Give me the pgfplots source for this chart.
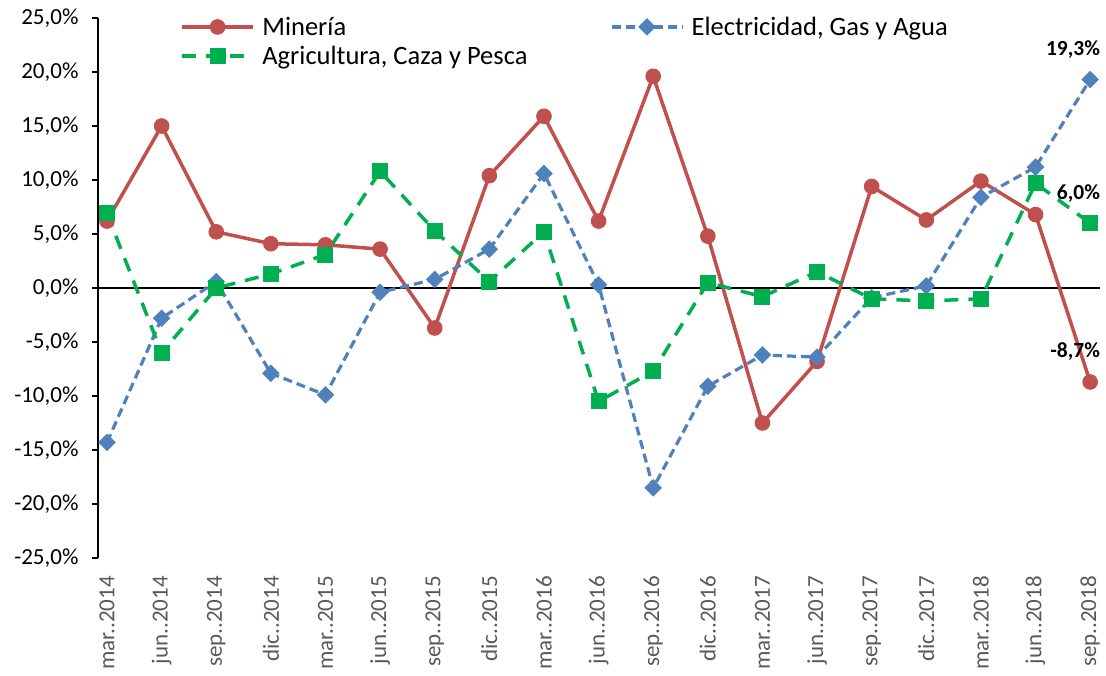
\documentclass[border=0pt]{standalone}
\usepackage{pgfplots}
\pgfplotsset{compat=1.18}
\usepackage{fontspec}
\setmainfont{Carlito}
\definecolor{mred}{HTML}{C0504D}
\definecolor{mblue}{HTML}{4F81BD}
\definecolor{mgreen}{HTML}{00B050}
\definecolor{lblgray}{HTML}{595959}
\begin{document}
\begin{tikzpicture}
\path[use as bounding box] (0,0) rectangle (1106pt,675pt);
\begin{axis}[
  at={(98pt,117pt)}, anchor=south west,
  scale only axis, width=1002pt, height=540pt,
  xmin=-0.165, xmax=18.18, ymin=-25, ymax=25,
  axis y line*=left, axis x line*=bottom,
  x axis line style={draw=none},
  y axis line style={black, line width=1.3pt},
  xtick={0,...,18},
  xticklabels={mar..2014,jun..2014,sep..2014,dic..2014,mar..2015,jun..2015,sep..2015,dic..2015,mar..2016,jun..2016,sep..2016,dic..2016,mar..2017,jun..2017,sep..2017,dic..2017,mar..2018,jun..2018,sep..2018},
  x tick style={draw=none},
  xticklabel style={rotate=90, anchor=east, inner sep=1pt, xshift=-11pt, font=\fontsize{23}{26}\selectfont, text=lblgray},
  ytick={-25,-20,...,25},
  tick align=outside, major tick length=6pt,
  y tick style={black, line width=1.3pt},
  yticklabel style={font=\fontsize{23}{26}\selectfont, xshift=-10pt, /pgf/number format/.cd, fixed, fixed zerofill, precision=1, use comma, assume math mode=true},
  yticklabel={\pgfmathprintnumber{\tick}\%},
  legend columns=2,
  legend cell align=left,
  legend style={draw=none, fill=none, at={(0.082,1.005)}, anchor=north west,
    font=\fontsize{26.5}{30}\selectfont, inner sep=0pt, row sep=6pt,
    nodes={inner sep=1.5pt},
    /tikz/every odd column/.append style={column sep=6pt},
    /tikz/every even column/.append style={column sep=81pt}},
  legend image code/.code={\draw[mark repeat=2,mark phase=2] plot coordinates {(0pt,0pt)(35.5pt,0pt)(71pt,0pt)};},
]
\draw[black, line width=1.3pt] (rel axis cs:0,0.5) -- (rel axis cs:1,0.5);
\addplot[mred, line width=3.5pt, mark=*, mark size=7.3pt, mark options={solid, line width=1pt}] coordinates {
(0,6.2) (1,15.0) (2,5.2) (3,4.1) (4,4.0) (5,3.6) (6,-3.7) (7,10.4) (8,15.9) (9,6.2)
(10,19.6) (11,4.8) (12,-12.5) (13,-6.8) (14,9.4) (15,6.3) (16,9.9) (17,6.8) (18,-8.7)};
\addlegendentry{Minería}
\addplot[mblue, line width=3.2pt, dash pattern=on 9pt off 5pt, mark=square*, mark size=5.7pt, mark options={solid, rotate=45, line width=1pt}] coordinates {
(0,-14.3) (1,-2.8) (2,0.6) (3,-7.9) (4,-9.9) (5,-0.4) (6,0.8) (7,3.6) (8,10.6) (9,0.3)
(10,-18.5) (11,-9.1) (12,-6.2) (13,-6.4) (14,-0.9) (15,0.2) (16,8.4) (17,11.2) (18,19.3)};
\addlegendentry{Electricidad, Gas y Agua}
\addplot[mgreen, line width=3.5pt, dash pattern=on 14pt off 10pt, mark=square*, mark size=7.5pt, mark options={solid, line width=1pt}] coordinates {
(0,6.9) (1,-6.0) (2,0.0) (3,1.3) (4,3.1) (5,10.8) (6,5.3) (7,0.6) (8,5.2) (9,-10.5)
(10,-7.7) (11,0.5) (12,-0.8) (13,1.5) (14,-1.0) (15,-1.2) (16,-1.0) (17,9.7) (18,6.0)};
\addlegendentry{Agricultura, Caza y Pesca}
\node[anchor=east, inner sep=1pt, xshift=11pt, yshift=30pt, font=\bfseries\fontsize{21.5}{24}\selectfont] at (axis cs:18,19.3) {19,3\%};
\node[anchor=east, inner sep=1pt, xshift=11pt, yshift=30pt, font=\bfseries\fontsize{21.5}{24}\selectfont] at (axis cs:18,6.0) {6,0\%};
\node[anchor=east, inner sep=1pt, xshift=11pt, yshift=30pt, font=\bfseries\fontsize{21.5}{24}\selectfont] at (axis cs:18,-8.7) {-8,7\%};
\end{axis}
\end{tikzpicture}
\end{document}
